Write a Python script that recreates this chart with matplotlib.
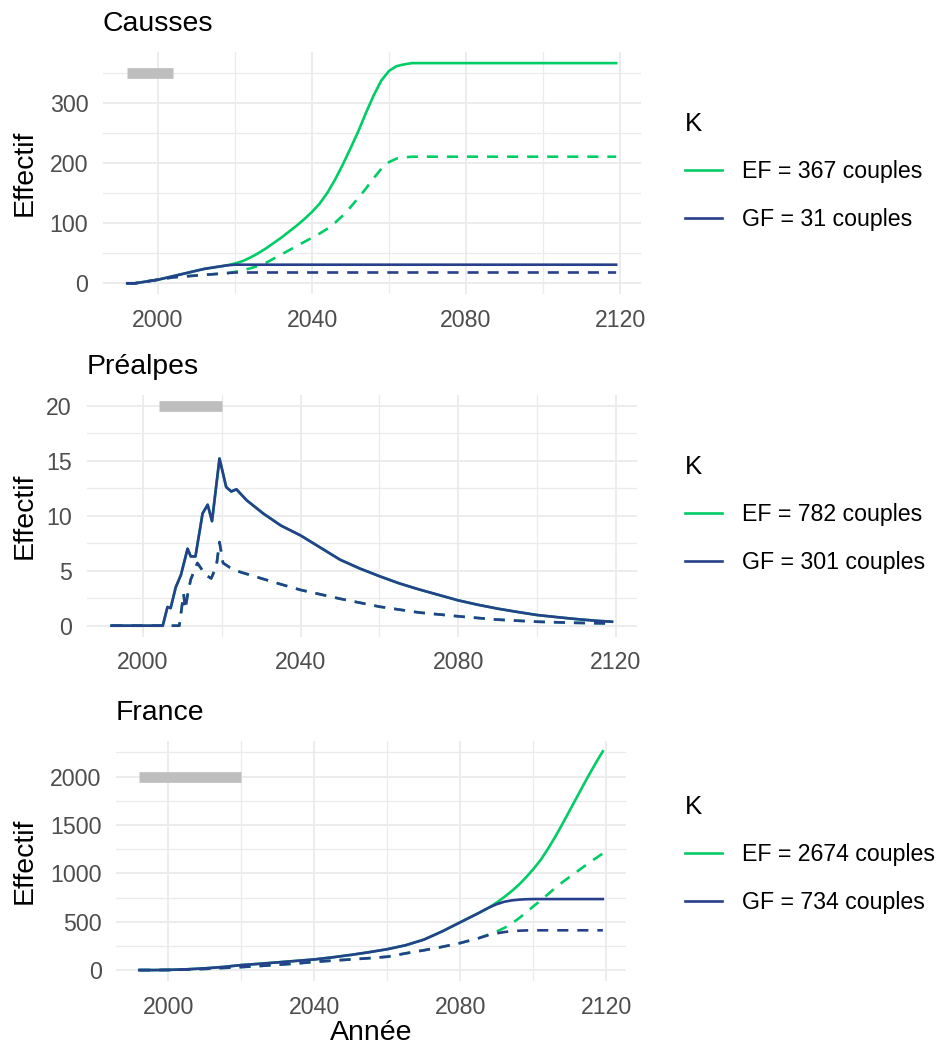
import matplotlib
matplotlib.use("Agg")
import matplotlib.pyplot as plt
from matplotlib.lines import Line2D
from matplotlib.ticker import FixedLocator

plt.rcParams['font.family'] = ['Liberation Sans', 'DejaVu Sans']

# ---------------- data ----------------
# Causses
c_years = [1992, 1994, 1996, 1998, 2000, 2002, 2004, 2006, 2008, 2010,
           2012, 2014, 2016, 2018, 2020, 2022, 2024, 2026, 2028, 2030,
           2032, 2034, 2036, 2038, 2040, 2042, 2044, 2046, 2048, 2050,
           2052, 2054, 2056, 2058, 2060, 2062, 2064, 2066, 2068, 2119]
c_ef_solid = [0, 0, 2, 4, 6, 9, 12, 15, 18, 21,
              24, 26, 28, 30, 33, 37, 43, 50, 58, 67,
              76, 86, 96, 107, 119, 133, 151, 173, 198, 225,
              253, 284, 313, 338, 354, 362, 365, 367, 367, 367]
c_ef_dash = [0, 0, 2, 4, 6, 8, 10, 11, 12, 13,
             14, 15, 16, 17, 19, 22, 25, 29, 34, 41,
             48, 55, 62, 69, 76, 83, 91, 101, 113, 127,
             142, 158, 175, 191, 202, 208, 210, 211, 211, 211]
c_gf_years = [1992, 1994, 1996, 1998, 2000, 2002, 2004, 2006, 2008, 2010,
              2012, 2014, 2016, 2018, 2020, 2119]
c_gf_solid = [0, 0, 2, 4, 6, 9, 12, 15, 18, 21, 24, 26, 28, 30, 31, 31]
c_gf_dash = [0, 0, 2, 4, 6, 8, 10, 11, 12, 13, 14, 15, 16, 17, 18, 18]

# Préalpes
p_years = [1992, 2005, 2006.2, 2007, 2008.3, 2009.6, 2011.3, 2012.1, 2013.3, 2015.1,
           2016.4, 2017.5, 2019.4, 2021.1, 2022.4, 2023.7, 2026.3, 2030.5, 2035, 2040,
           2045, 2050, 2055, 2060, 2065, 2070, 2075, 2080, 2085, 2090,
           2095, 2100, 2105, 2110, 2115, 2119]
p_gf_solid = [0, 0, 1.7, 1.6, 3.5, 4.6, 7.0, 6.3, 6.3, 10.2,
              11.0, 9.5, 15.2, 12.6, 12.2, 12.4, 11.4, 10.2, 9.1, 8.2,
              7.1, 6.0, 5.2, 4.5, 3.85, 3.3, 2.8, 2.3, 1.9, 1.55,
              1.25, 0.97, 0.78, 0.6, 0.45, 0.36]
p_dash_years = [1992, 2009.2, 2009.8, 2010.3, 2010.7, 2011.4, 2012.1, 2013.8, 2015.9, 2017.3,
                2018.6, 2019.4, 2020.3, 2022, 2024.5, 2030, 2035.6, 2040, 2050, 2060,
                2070, 2081, 2090, 2100, 2110, 2119]
p_gf_dash = [0, 0, 1.6, 2.9, 1.5, 3.0, 4.2, 5.7, 4.6, 4.3,
             5.4, 7.6, 5.7, 5.3, 4.9, 4.3, 3.7, 3.25, 2.45, 1.73,
             1.2, 0.82, 0.55, 0.36, 0.26, 0.2]
# EF trajectories identical to GF in Préalpes (hidden below)
p_ef_solid = p_gf_solid
p_ef_dash = p_gf_dash

# France
f_years = [1992, 1996, 2000, 2005, 2010, 2015, 2020, 2025, 2030, 2035,
           2040, 2045, 2050, 2055, 2060, 2065, 2070, 2075, 2080, 2085,
           2088, 2090, 2092, 2094, 2096, 2098, 2100, 2119]
f_gf_solid = [0, 0, 2, 8, 18, 32, 52, 65, 80, 95,
              110, 132, 157, 185, 216, 257, 315, 400, 495, 590,
              650, 682, 706, 720, 728, 732, 734, 734]
f_gf_dash = [0, 0, 1, 5, 12, 22, 31, 42, 55, 68,
             85, 98, 110, 123, 138, 173, 205, 240, 280, 330,
             365, 380, 393, 402, 407, 410, 411, 411]
f_ef_years = [1992, 1996, 2000, 2005, 2010, 2015, 2020, 2025, 2030, 2035,
              2040, 2045, 2050, 2055, 2060, 2065, 2070, 2075, 2080, 2085,
              2088, 2090, 2092, 2094, 2096, 2098, 2100, 2102, 2104, 2106,
              2108, 2110, 2112, 2114, 2116, 2118, 2119]
f_ef_solid = [0, 0, 2, 8, 18, 32, 52, 65, 80, 95,
              110, 132, 157, 185, 216, 257, 315, 400, 495, 590,
              650, 700, 755, 815, 882, 960, 1045, 1140, 1255, 1380,
              1515, 1655, 1795, 1935, 2070, 2200, 2261]
f_ef_dash = [0, 0, 1, 5, 12, 22, 31, 42, 55, 68,
             85, 98, 110, 123, 138, 173, 205, 240, 280, 330,
             372, 400, 435, 480, 535, 595, 660, 720, 785, 850,
             910, 965, 1020, 1075, 1128, 1180, 1205]

titles = ["Causses", "Préalpes", "France"]
release_start = [1992, 2004, 1992]
release_end = [2004, 2020, 2020]
bar_y = [350, 20, 2000]
ef_labels = ["EF = 367 couples", "EF = 782 couples", "EF = 2674 couples"]
gf_labels = ["GF = 31 couples", "GF = 301 couples", "GF = 734 couples"]
x_major = [2000, 2040, 2080, 2120]
x_minor = [2020, 2060, 2100]
y_major = [[0, 100, 200, 300], [0, 5, 10, 15, 20], [0, 500, 1000, 1500, 2000]]
y_minor = [[50, 150, 250, 350], [2.5, 7.5, 12.5, 17.5], [250, 750, 1250, 1750, 2250]]

# ---------------- style ----------------
GREEN = "#00CD66"
BLUE = "#27408B"
GRID = "#EBEBEB"
BAR = "#BEBEBE"
LW = 1.9
DASH = (4.2, 3.4)

W, H = 936, 1051
fig = plt.figure(figsize=(W / 100, H / 100), dpi=100)
fig.patch.set_facecolor("white")

# panel boxes in pixels: left, right, top, bottom
boxes = [(102.8, 640.6, 52.1, 294.3),
         (86.5, 637.0, 394.7, 636.7),
         (116.1, 626.0, 740.5, 981.0)]
ylims = [(-18.35, 385.35), (-1.0, 21.0), (-113.0, 2373.0)]
legend_tops = [112, 455, 795]

series = [
    (c_years, c_ef_solid, c_years, c_ef_dash, c_gf_years, c_gf_solid, c_gf_years, c_gf_dash),
    (p_years, p_ef_solid, p_dash_years, p_ef_dash, p_years, p_gf_solid, p_dash_years, p_gf_dash),
    (f_ef_years, f_ef_solid, f_ef_years, f_ef_dash, f_years, f_gf_solid, f_years, f_gf_dash),
]

for i in range(3):
    L, R, T, B = boxes[i]
    ax = fig.add_axes([L / W, 1 - B / H, (R - L) / W, (B - T) / H])
    for s in ax.spines.values():
        s.set_visible(False)
    ax.set_xlim(1985.65, 2125.35)
    ax.set_ylim(*ylims[i])
    ax.xaxis.set_major_locator(FixedLocator(x_major))
    ax.xaxis.set_minor_locator(FixedLocator(x_minor))
    ax.yaxis.set_major_locator(FixedLocator(y_major[i]))
    ax.yaxis.set_minor_locator(FixedLocator(y_minor[i]))
    ax.grid(which="major", color=GRID, lw=1.3)
    ax.grid(which="minor", color=GRID, lw=0.9)
    ax.set_axisbelow(True)
    ax.tick_params(which="both", length=0, labelsize=16.7, labelcolor="#4D4D4D", pad=10.5)
    ax.set_xticklabels([str(v) for v in x_major])
    ax.set_yticklabels([str(v) for v in y_major[i]])

    # release period bar
    ax.plot([release_start[i], release_end[i]], [bar_y[i], bar_y[i]],
            color=BAR, lw=7.7, solid_capstyle="butt", zorder=2)

    ey, es, edy, ed, gy, gs, gdy, gd = series[i]
    ax.plot(ey, es, color=GREEN, lw=LW, zorder=3)
    l = ax.plot(edy, ed, color=GREEN, lw=LW, zorder=3)[0]
    l.set_dashes(DASH)
    ax.plot(gy, gs, color=BLUE, lw=LW, zorder=4)
    l = ax.plot(gdy, gd, color=BLUE, lw=LW, zorder=4)[0]
    l.set_dashes(DASH)

    ax.set_title(titles[i], loc="left", fontsize=20.4, pad=15, color="black")
    ax.set_ylabel("Effectif", fontsize=20.5, va="center")
    ax.yaxis.set_label_coords((25 - L) / (R - L), 0.5)
    if i == 2:
        ax.set_xlabel("Année", fontsize=20.5, labelpad=1)

    handles = [Line2D([], [], color=GREEN, lw=LW), Line2D([], [], color=BLUE, lw=LW)]
    leg = fig.legend(handles, [ef_labels[i], gf_labels[i]], title="K",
                     loc="upper left", bbox_to_anchor=(685 / W, 1 - legend_tops[i] / H),
                     bbox_transform=fig.transFigure, frameon=False,
                     fontsize=16.7, title_fontsize=18.6, handlelength=1.6,
                     handletextpad=0.85, labelspacing=1.05, borderpad=0,
                     borderaxespad=0, alignment="left")

fig.savefig("out.png", dpi=100, facecolor="white")
